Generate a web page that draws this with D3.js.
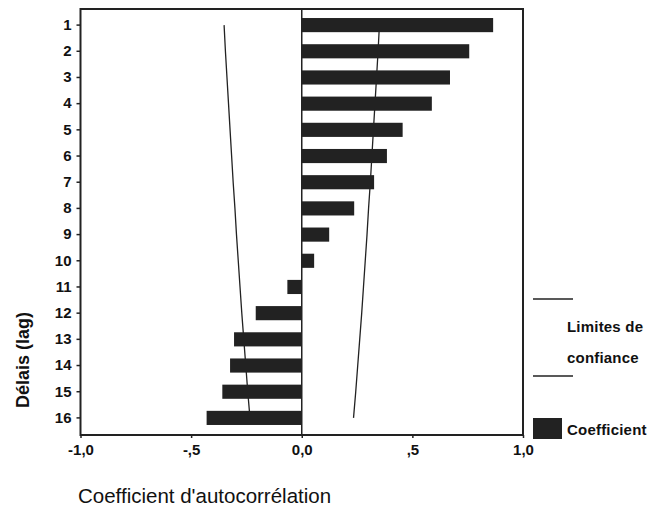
<!DOCTYPE html>
<html>
<head>
<meta charset="utf-8">
<script src="https://cdn.jsdelivr.net/npm/d3@7"></script>
<style>
  body { margin: 0; background: #fff; }
  svg { display: block; font-family: "Liberation Sans", Arial, sans-serif; }
  .tick text { font-weight: bold; font-size: 15px; fill: #111; }
</style>
</head>
<body>
<svg id="chart" width="653" height="515"></svg>
<script>
// lags (délais)
var lags = [1, 2, 3, 4, 5, 6, 7, 8, 9, 10, 11, 12, 13, 14, 15, 16];
// autocorrelation coefficient per lag
var coefs = [0.865, 0.757, 0.67, 0.588, 0.456, 0.385, 0.327, 0.237, 0.124, 0.056,
             -0.065, -0.208, -0.306, -0.324, -0.359, -0.43];
// upper confidence limit per lag (lower one is the negative)
var confLimit = [0.351, 0.345, 0.338, 0.331, 0.324, 0.317, 0.31, 0.302, 0.295, 0.287,
                 0.279, 0.271, 0.262, 0.253, 0.244, 0.234];
var xTicks = [-1, -0.5, 0, 0.5, 1];
var xTickLabels = ['-1,0', '-,5', '0,0', ',5', '1,0'];

var svg = d3.select('#chart');

var plotTop = 9, plotBottom = 435;

var x = d3.scaleLinear()
	.domain([-1, 1])
	.range([80.5, 523]);

var y = d3.scaleBand()
	.domain(lags)
	.range([12, 431])
	.paddingInner(0.46)
	.paddingOuter(0.23);

var ink = '#222';

// frame drawn first as a filled rect with an inner white rect
svg.append('rect')
	.attr('x', x(-1) - 1)
	.attr('y', plotTop - 1)
	.attr('width', x(1) - x(-1) + 2)
	.attr('height', plotBottom - plotTop + 2)
	.attr('fill', ink);
svg.append('rect')
	.attr('x', x(-1) + 1)
	.attr('y', plotTop + 1)
	.attr('width', x(1) - x(-1) - 2)
	.attr('height', plotBottom - plotTop - 2)
	.attr('fill', '#fff');

// confidence limit lines (behind the bars)
var line = d3.line()
	.x(d => x(d[1]))
	.y(d => y(d[0]) + y.bandwidth() / 2);

svg.append('path')
	.attr('d', line(lags.map((l, i) => [l, confLimit[i]])))
	.attr('fill', 'none')
	.attr('stroke', ink)
	.attr('stroke-width', 1.3);

svg.append('path')
	.attr('d', line(lags.map((l, i) => [l, -confLimit[i]])))
	.attr('fill', 'none')
	.attr('stroke', ink)
	.attr('stroke-width', 1.3);

// bars
svg.selectAll('.bar')
	.data(lags)
	.enter()
	.append('rect')
	.classed('bar', true)
	.attr('x', (d, i) => x(Math.min(0, coefs[i])))
	.attr('width', (d, i) => Math.abs(x(coefs[i]) - x(0)))
	.attr('y', d => y(d))
	.attr('height', y.bandwidth())
	.attr('fill', ink);

// zero line
svg.append('line')
	.attr('x1', x(0)).attr('x2', x(0))
	.attr('y1', plotTop).attr('y2', plotBottom)
	.attr('stroke', ink)
	.attr('stroke-width', 1.5);

// axes
var yAxis = svg.append('g')
	.attr('transform', `translate(${x(-1)},0)`)
	.call(d3.axisLeft(y).tickSize(4).tickPadding(5));
yAxis.select('.domain').remove();
yAxis.selectAll('.tick line').attr('stroke', ink).attr('stroke-width', 1.5);

var xAxis = svg.append('g')
	.attr('transform', `translate(0,${plotBottom})`)
	.call(d3.axisBottom(x)
		.tickValues(xTicks)
		.tickFormat((d, i) => xTickLabels[i])
		.tickSize(3)
		.tickPadding(6));
xAxis.select('.domain').remove();
xAxis.selectAll('.tick line').attr('stroke', ink).attr('stroke-width', 1.5);

// axis titles
svg.append('text')
	.attr('transform', 'translate(29,360) rotate(-90)')
	.attr('text-anchor', 'middle')
	.style('font-size', '18px')
	.style('font-weight', 'bold')
	.style('fill', '#111')
	.text('Délais (lag)');

svg.append('text')
	.attr('x', 78)
	.attr('y', 503)
	.style('font-size', '20.5px')
	.style('fill', '#111')
	.text("Coefficient d'autocorrélation");

// legend
var legend = svg.append('g');

legend.append('line')
	.attr('x1', 533).attr('x2', 573)
	.attr('y1', 299).attr('y2', 299)
	.attr('stroke', ink).attr('stroke-width', 1.5);
legend.append('line')
	.attr('x1', 533).attr('x2', 573)
	.attr('y1', 376).attr('y2', 376)
	.attr('stroke', ink).attr('stroke-width', 1.5);
legend.append('rect')
	.attr('x', 533).attr('y', 418)
	.attr('width', 29).attr('height', 21)
	.attr('fill', ink);

var legendText = [['Limites de', 332], ['confiance', 363], ['Coefficient', 435]];
legend.selectAll('.leg-text')
	.data(legendText)
	.enter()
	.append('text')
	.classed('leg-text', true)
	.attr('x', 567)
	.attr('y', d => d[1])
	.style('font-size', '15px')
	.style('font-weight', 'bold')
	.style('letter-spacing', '0.2px')
	.style('fill', '#111')
	.text(d => d[0]);
</script>
</body>
</html>
